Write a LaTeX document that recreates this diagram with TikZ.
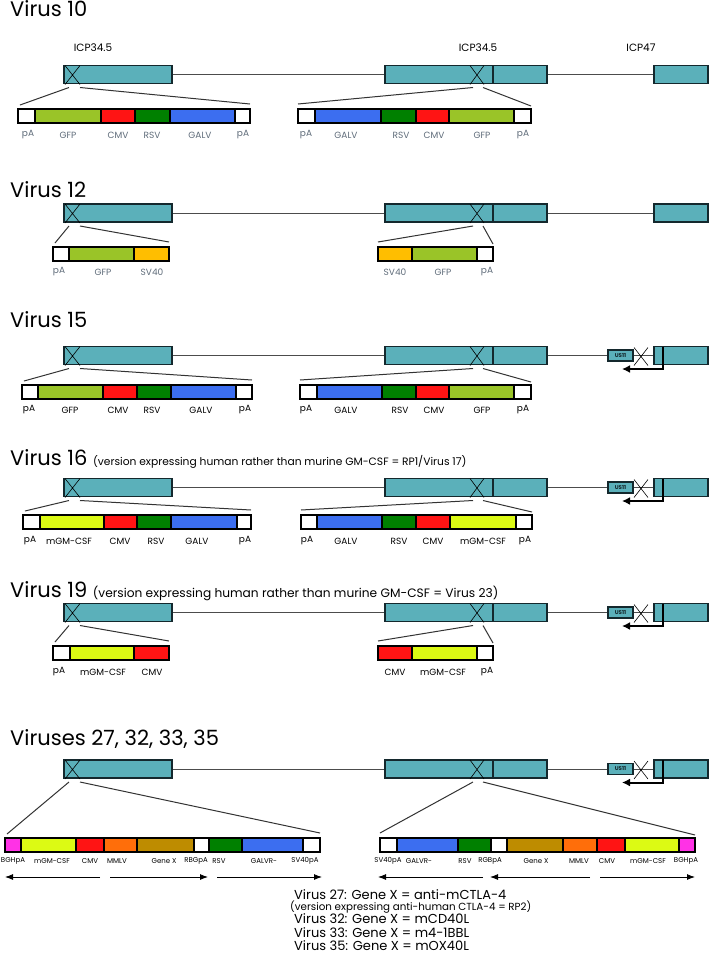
\documentclass[tikz,border=0pt]{standalone}
\usepackage{fontspec}
\setmainfont{Poppins}
\usetikzlibrary{arrows.meta}
\definecolor{hsv}{RGB}{91,176,186}
\definecolor{hsvedge}{RGB}{20,40,45}
\definecolor{gfp}{RGB}{154,196,40}
\definecolor{cmv}{RGB}{255,20,20}
\definecolor{rsv}{RGB}{0,128,0}
\definecolor{galv}{RGB}{60,110,240}
\definecolor{svf}{RGB}{255,190,0}
\definecolor{gmcsf}{RGB}{220,250,20}
\definecolor{mmlv}{RGB}{255,110,10}
\definecolor{genex}{RGB}{190,140,0}
\definecolor{bgh}{RGB}{255,50,230}
\definecolor{labgray}{RGB}{95,108,122}
\newcommand{\fsz}[1]{\fontsize{#1}{#1}\selectfont}

% genome line: #1 centre y, #2 = 1 with US11 and the bent arrow
\newcommand{\backbone}[2]{%
  \draw[spacer] (172,#1) -- (385,#1) (547,#1) -- (654,#1);
  \draw[gene] (64,#1-9) rectangle (172,#1+9);
  \draw[gene] (385,#1-9) rectangle (547,#1+9);
  \draw[gene] (654,#1-9) rectangle (708,#1+9);
  \draw[line width=1.3pt,hsvedge] (493,#1-9) -- (493,#1+9);
  \draw[cross] (65,#1-9) -- (80,#1+10) (80,#1-9) -- (65,#1+10);
  \draw[cross] (470,#1-9) -- (484,#1+10) (484,#1-9) -- (470,#1+10);
  \ifnum#2=1
    \draw[gene] (608,#1-5.5) rectangle (633,#1+5.5);
    \node[font=\fsz{5.5}\bfseries,text=hsvedge,inner sep=0] (us-#1) at (620.5,#1) {US11};
    \draw[cross] (634,#1-8) -- (648,#1+10) (648,#1-8) -- (634,#1+10);
    \draw[line width=2pt,-{Latex[length=8pt,width=8pt]}] (663,#1-9) |- (622,#1+13.5);
  \fi}

% insert: #1 name, #2 top y, #3 label y, #4 label style, #5 segments
\newcommand{\cassette}[5]{%
  \foreach \xa/\xb/\col/\txt/\lx [count=\k] in {#5}{
    \filldraw[fill=\col,draw=black,line width=1.1pt] (\xa,#2) rectangle (\xb,#2+14);
    \node[#4] (#1-\k) at (\lx,#3) {\txt};
  }}

% fan lines: #1 name, #2 centre y, #3 insert top, #4-#7 insert ends
\newcommand{\fan}[7]{%
  \coordinate (#1x1) at (69,#2+13); \coordinate (#1x2) at (80,#2+13);
  \coordinate (#1x3) at (473,#2+13); \coordinate (#1x4) at (483,#2+13);
  \coordinate (#1c1) at (#4+2,#3-4); \coordinate (#1c2) at (#5,#3-5);
  \coordinate (#1c3) at (#6,#3-5); \coordinate (#1c4) at (#7,#3-3);
  \draw[fanline] (#1x1) -- (#1c1) (#1x2) -- (#1c2) (#1x3) -- (#1c3) (#1x4) -- (#1c4);}

\begin{document}
\begin{tikzpicture}[x=1pt,y=-1pt,
    gene/.style={fill=hsv,draw=hsvedge,line width=1.3pt},
    spacer/.style={line width=1pt,black!70},
    cross/.style={line width=0.6pt,black},
    fanline/.style={line width=1pt,black!80},
    title/.style={anchor=base west,inner sep=0,font=\fsz{21}},
    lab/.style={font=\fsz{9},text=labgray},
    blab/.style={font=\fsz{9}},
    tlab/.style={font=\fsz{7}},
    note/.style={anchor=base west,inner sep=0,font=\fsz{13}}]
  \useasboundingbox[fill=white] (0,0) rectangle (709,954);

  % Virus 10
  \node[title] (t10) at (10,16) {Virus 10};
  \node[font=\fsz{10.5}] (icp1) at (93,48) {ICP34.5};
  \node[font=\fsz{10.5}] (icp2) at (478,48) {ICP34.5};
  \node[font=\fsz{10.5}] (icp3) at (641,48) {ICP47};
  \backbone{74.5}{0}
  \fan{v10}{74.5}{109}{18}{250}{298}{531}
  \cassette{v10a}{109}{135}{lab}{18/35/white/pA/28, 35/101/gfp/GFP/68, 101/135/cmv/CMV/118,
    135/170/rsv/RSV/152, 170/235/galv/GALV/200, 235/250/white/pA/243}
  \cassette{v10b}{109}{135}{lab}{298/315/white/pA/306, 315/381/galv/GALV/346, 381/416/rsv/RSV/401,
    416/449/cmv/CMV/434, 449/514/gfp/GFP/482, 514/531/white/pA/523}

  % Virus 12
  \node[title] (t12) at (10,197) {Virus 12};
  \backbone{213}{0}
  \fan{v12}{213}{247}{53}{169}{378}{493}
  \cassette{v12a}{247}{272}{lab}{53/69/white/pA/59, 69/134/gfp/GFP/103, 134/169/svf/SV40/152}
  \cassette{v12b}{247}{272}{lab}{378/412/svf/SV40/395, 412/477/gfp/GFP/443, 477/493/white/pA/487}

  % Virus 15
  \node[title] (t15) at (10,327) {Virus 15};
  \backbone{355.5}{1}
  \fan{v15}{355.5}{385}{22}{252}{300}{531}
  \cassette{v15a}{385}{410}{blab}{22/38/white/pA/29, 38/103/gfp/GFP/70, 103/137/cmv/CMV/118,
    137/171/rsv/RSV/152, 171/236/galv/GALV/201, 236/252/white/pA/245}
  \cassette{v15b}{385}{410}{blab}{300/317/white/pA/306, 317/382/galv/GALV/346, 382/416/rsv/RSV/400,
    416/449/cmv/CMV/434, 449/514/gfp/GFP/482, 514/531/white/pA/523}

  % Virus 16
  \node[title] (t16) at (10,465) {Virus 16 {\fsz{10.7}(version expressing human rather than murine GM-CSF = RP1/Virus 17)}};
  \backbone{487.5}{1}
  \fan{v16}{487.5}{515}{23}{251}{301}{532}
  \cassette{v16a}{515}{541}{blab}{23/40/white/pA/30, 40/104/gmcsf/mGM-CSF/69, 104/137/cmv/CMV/120,
    137/171/rsv/RSV/156, 171/237/galv/GALV/197, 237/251/white/pA/245}
  \cassette{v16b}{515}{541}{blab}{301/317/white/pA/307, 317/382/galv/GALV/346, 382/416/rsv/RSV/399,
    416/450/cmv/CMV/433, 450/516/gmcsf/mGM-CSF/483, 516/532/white/pA/525}

  % Virus 19
  \node[title] (t19) at (10,597) {Virus 19 {\fsz{12.2}(version expressing human rather than murine GM-CSF = Virus 23)}};
  \backbone{612.5}{1}
  \fan{v19}{612.5}{646}{53}{169}{378}{493}
  \cassette{v19a}{646}{672}{blab}{53/70/white/pA/59, 70/134/gmcsf/mGM-CSF/103, 134/169/cmv/CMV/152}
  \cassette{v19b}{646}{672}{blab}{378/412/cmv/CMV/395, 412/477/gmcsf/mGM-CSF/443, 477/493/white/pA/487}

  % Viruses 27, 32, 33, 35
  \node[title] (t27) at (10,745) {Viruses 27, 32, 33, 35};
  \backbone{769}{1}
  \fan{v27}{769}{838}{5}{320}{380}{695}
  \cassette{v27a}{838}{861}{tlab}{5/21/bgh/BGHpA/13, 21/76/gmcsf/mGM-CSF/52, 76/104/cmv/CMV/90,
    104/137/mmlv/MMLV/117, 137/194/genex/Gene X/164, 194/209/white/RBGpA/196,
    209/242/rsv/RSV/219, 242/303/galv/GALVR-/264, 303/320/white/SV40pA/305}
  \cassette{v27b}{838}{861}{tlab}{380/397/white/SV40pA/388, 397/458/galv/GALVR-/419, 458/491/rsv/RSV/465,
    491/507/white/RGBpA/490, 507/563/genex/Gene X/536, 563/597/mmlv/MMLV/579,
    597/625/cmv/CMV/607, 625/679/gmcsf/mGM-CSF/648, 679/695/bgh/BGHpA/686}
  \foreach \xa/\xb/\k in {100/5/1, 110/208/2, 217/322/3, 483/378/4, 590/490/5, 600/695/6} {
    \coordinate (ar\k a) at (\xa,877); \coordinate (ar\k b) at (\xb,877);
    \draw[line width=0.9pt,-{Latex[length=8pt,width=6pt]}] (ar\k a) -- (ar\k b);}
  \node[note] (g27) at (294,899) {Virus 27: Gene X = anti-mCTLA-4};
  \node[note,font=\fsz{10.3}] (g27h) at (290,910) {(version expressing anti-human CTLA-4 = RP2)};
  \node[note] (g32) at (294,923.5) {Virus 32: Gene X = mCD40L};
  \node[note] (g33) at (294,937) {Virus 33: Gene X = m4-1BBL};
  \node[note] (g35) at (294,950) {Virus 35: Gene X = mOX40L};
\end{tikzpicture}
\end{document}
